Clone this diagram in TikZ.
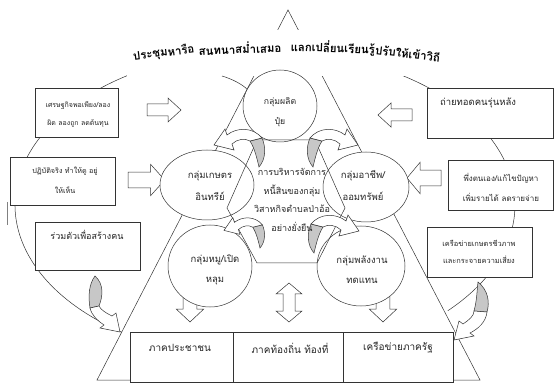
\documentclass[tikz,border=0pt]{standalone}
\usepackage{fontspec}
\newfontfamily\thaifont[Script=Thai]{Loma}
\usetikzlibrary{calc,shapes.geometric}

\tikzset{
  outline/.style={draw=black!80, line width=0.5pt},
  box/.style={outline, fill=white, inner sep=0pt},
  grp/.style={outline, fill=white},
  greyface/.style={outline, fill=black!22},
  whiteface/.style={outline, fill=white},
  txt/.style={text=black!85, align=center, inner sep=0pt},
  fs/.style 2 args={font=\thaifont\fontsize{#1}{#2}\selectfont},
  arch/.style={inner sep=0pt, anchor=west, font=\thaifont\bfseries\fontsize{11.4}{12}\selectfont},
  blockarrow/.pic={
    \path[whiteface] (0,-6) -- (21,-6) -- (21,-12) -- (34,0) -- (21,12) -- (21,6) -- (0,6) -- cycle;
  },
  hook/.pic={
    \path[greyface] (0,0) .. controls (7,-8) and (7,-20) .. (3,-29) -- (-9,-26) .. controls (-4,-18) and (-2,-8) .. (0,0) -- cycle;
    \path[whiteface] (3,-29) .. controls (-6,-40) and (-22,-40) .. (-32,-32) -- (-34,-38) -- (-45,-22) -- (-25,-17) -- (-27,-23) .. controls (-22,-28) and (-14,-29) .. (-9,-26) -- cycle;
  }
}

\begin{document}
\begin{tikzpicture}[x=1pt, y=-1pt]
  \useasboundingbox (0,0) rectangle (555,385);

  % outer loop
  \draw[outline] (265,205) ++(125:250 and 155) arc[start angle=125, end angle=403, x radius=250, y radius=155];

  % triangle
  \coordinate (apex) at (288,10);
  \coordinate (bl) at (97,380);
  \coordinate (br) at (480,380);
  \draw[outline] (apex) -- (bl) -- (br) -- cycle;

  % title area
  \fill[white] (127,30) rectangle (460,76);
  \draw[outline] (222,76) .. controls (232,79) and (242,84) .. (248,90);
  \node[arch, rotate=7] (title-a) at (133,57) {ประชุมหารือ};
  \node[arch, rotate=2] (title-b) at ($(title-a.east)+(4,0)$) {สนทนาสม่ำเสมอ};
  \node[arch, rotate=-2] (title-c) at ($(title-b.east)+(9,0)$) {แลกเปลี่ยนเรียนรู้};
  \node[arch, rotate=-7] (title-d) at (title-c.east) {ปรับให้เข้าวิถี};

  % block arrows
  \pic at (147,110) {blockarrow};
  \pic[xscale=1.08, yscale=1.3] at (128,180) {blockarrow};
  \pic[rotate=180] at (412,115) {blockarrow};
  \pic[rotate=180, yscale=1.3] at (441,178) {blockarrow};
  \pic[rotate=-90, yscale=1.15] at (190,288) {blockarrow};
  \pic[rotate=-90, yscale=1.15] at (383,288) {blockarrow};
  \path[whiteface] (289,283) -- (302,294) -- (295,294) -- (295,311) -- (302,311) -- (289,322)
    -- (276,311) -- (283,311) -- (283,294) -- (276,294) -- cycle;

  % groups
  \node[grp, ellipse, minimum width=74, minimum height=72] (fert) at (280,106) {};
  \node[grp, ellipse, minimum width=94, minimum height=70] (organic) at (207,185) {};
  \node[grp, ellipse, minimum width=86, minimum height=70] (saving) at (366,187) {};
  \node[grp, ellipse, minimum width=84, minimum height=82] (pig) at (210,266) {};
  \node[grp, ellipse, minimum width=88, minimum height=80] (energy) at (361,266) {};

  % centre
  \draw[outline] (257,140) -- (315,140) -- (345,208) -- (317,263) -- (257,263) -- (227,208) -- cycle;

  % side boxes
  \node[box, minimum width=83, minimum height=49] (eco) at (76.5,112.5) {};
  \node[box, minimum width=105, minimum height=48] (practice) at (62.5,181) {};
  \node[box, minimum width=105, minimum height=48] (unite) at (87.5,246) {};
  \node[box, minimum width=126, minimum height=50] (transfer) at (490,113) {};
  \node[box, minimum width=105, minimum height=50] (selfrely) at (500.5,185) {};
  \node[box, minimum width=105, minimum height=50] (network) at (479.5,252) {};

  % bottom boxes
  \node[box, minimum width=103, minimum height=50] (people) at (181.5,357) {};
  \node[box, minimum width=110, minimum height=50] (local) at (288,357) {};
  \node[box, minimum width=110, minimum height=50] (state) at (398,357) {};

  % curved arrows
  \pic at (259,167) {hook};
  \pic[xscale=-1] at (313,167) {hook};
  \pic[scale=0.8] at (260,248) {hook};
  \pic[xscale=-1] at (314,253) {hook};
  \path[greyface] (95,276) .. controls (104,284) and (103,296) .. (99,306) -- (90,308)
    .. controls (88,296) and (89,284) .. (95,276) -- cycle;
  \path[whiteface] (90,308) .. controls (92,316) and (98,321) .. (104,325) -- (100,328) -- (120,332)
    -- (116,313) -- (112,316) .. controls (106,313) and (101,310) .. (99,306) -- cycle;
  \path[greyface] (478,282) .. controls (488,290) and (490,302) .. (487,312) -- (474,311)
    .. controls (477,300) and (477,290) .. (478,282) -- cycle;
  \path[whiteface] (487,312) .. controls (486,322) and (478,329) .. (470,333) -- (474,336) -- (454,340)
    -- (459,321) -- (463,324) .. controls (469,320) and (474,316) .. (474,311) -- cycle;

  % stray mark
  \draw[black!50] (7,202) -- (7,225);

  % labels
  \node[txt, fs={8.7}{20}] (fert-t) at (280,112) {กลุ่มผลิต\\ปุ๋ย};
  \node[txt, fs={9.5}{22}] (organic-t) at (210,186) {กลุ่มเกษตร\\อินทรีย์};
  \node[txt, fs={9.5}{22}] (saving-t) at (363,186) {กลุ่มอาชีพ/\\ออมทรัพย์};
  \node[txt, fs={9.5}{20}] (pig-t) at (215,270) {กลุ่มหมู/เปิด\\หลุม};
  \node[txt, fs={9.5}{20}] (energy-t) at (362,270) {กลุ่มพลังงาน\\ทดแทน};
  \node[txt, fs={9}{18.5}] (core-t) at (292,200) {การบริหารจัดการ\\หนี้สินของกลุ่ม\\วิสาหกิจตำบลป่าอ้อ\\อย่างยั่งยืน};

  \node[txt, fs={7}{18}] (eco-t) at (78,114) {เศรษฐกิจพอเพียง/ลอง\\ผิด ลองถูก ลดต้นทุน};
  \node[txt, fs={7.2}{20}] (practice-t) at (65,180) {ปฏิบัติจริง ทำให้ดู อยู่\\ให้เห็น};
  \node[txt, fs={9}{18}] (unite-t) at (87,235) {ร่วมตัวเพื่อสร้างคน};
  \node[txt, fs={9.5}{18}] (transfer-t) at (478,103) {ถ่ายทอดคนรุ่นหลัง};
  \node[txt, fs={8}{20}] (selfrely-t) at (501,187) {พึ่งตนเอง/แก้ไขปัญหา\\เพิ่มรายได้ ลดรายจ่าย};
  \node[txt, fs={7.4}{17}] (network-t) at (479,252) {เครือข่ายเกษตรชีวภาพ\\และกระจายความเสี่ยง};

  \node[txt, fs={10}{18}] (people-t) at (180,348) {ภาคประชาชน};
  \node[txt, fs={10}{18}] (local-t) at (290,348) {ภาคท้องถิ่น ท้องที่};
  \node[txt, fs={10}{18}] (state-t) at (398,348) {เครือข่ายภาครัฐ};
\end{tikzpicture}
\end{document}
